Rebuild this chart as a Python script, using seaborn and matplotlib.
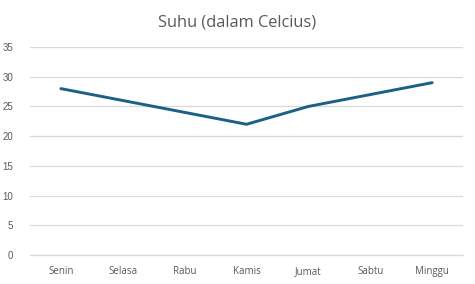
import matplotlib
matplotlib.use("Agg")
import matplotlib.pyplot as plt
import seaborn as sns
import pandas as pd

days = ["Senin", "Selasa", "Rabu", "Kamis", "Jumat", "Sabtu", "Minggu"]
temps = [28, 26, 24, 22, 25, 27, 29]
yticks = [0, 5, 10, 15, 20, 25, 30, 35]

sns.set_theme(style="white")
plt.rcParams['font.family'] = ['Open Sans', 'DejaVu Sans']

df = pd.DataFrame({"Hari": days, "Suhu": temps})

fig = plt.figure(figsize=(4.75, 2.84), dpi=100)
ax = fig.add_axes([0.063, 0.102, 0.912, 0.7325])
sns.lineplot(data=df, x="Hari", y="Suhu", ax=ax, color="#1C6085", linewidth=2.1, sort=False, zorder=3)

ax.set_xlim(-0.5, len(days) - 0.5)
ax.set_ylim(0, 35)
ax.set_yticks(yticks)
ax.grid(axis="y", color="#D9D9D9", linewidth=0.9)
ax.axhline(0, color="#D9D9D9", linewidth=0.9, clip_on=False, zorder=1)
ax.set_axisbelow(True)
for s in ax.spines.values():
    s.set_visible(False)
ax.set_xlabel("")
ax.set_ylabel("")
ax.tick_params(axis="both", length=0, labelsize=7, colors="#595959")
ax.tick_params(axis="y", pad=12, labelfontfamily="Liberation Sans")
ax.tick_params(axis="x", pad=8)
fig.text(0.5, 0.922, "Suhu (dalam Celcius)", ha="center", va="center", fontsize=11.8, color="#595959")

fig.savefig("out.png", dpi=100)
